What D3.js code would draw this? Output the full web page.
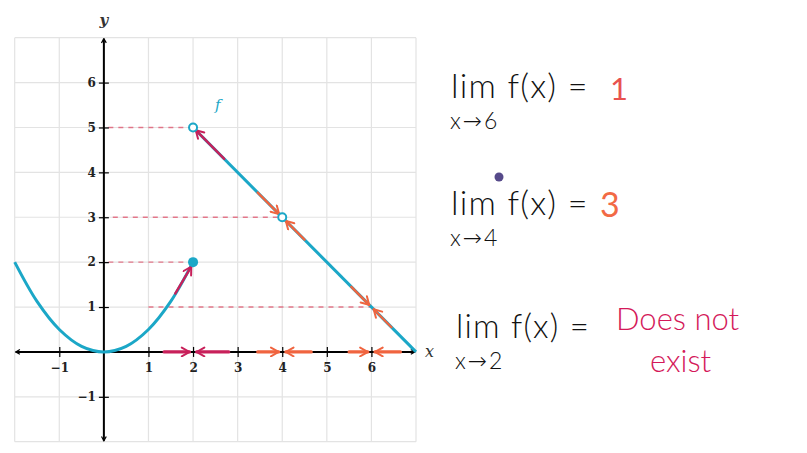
<!DOCTYPE html>
<html>
<head>
<meta charset="utf-8">
<script src="https://cdn.jsdelivr.net/npm/d3@7"></script>
<style>
  html, body { margin: 0; padding: 0; background: #fff; }
  svg { display: block; }
</style>
</head>
<body>
<svg id="chart" width="807" height="453"></svg>
<script>
// ---- data ----
const xDomain = [-2, 7];
const yDomain = [-2, 7];
const gridValues = [-2, -1, 0, 1, 2, 3, 4, 5, 6, 7];
const xTickValues = [-1, 1, 2, 3, 4, 5, 6];
const yTickValues = [-1, 1, 2, 3, 4, 5, 6];

// left piece (parabola-shaped)
const leftPieceX = [-2, -1.5, -1, -0.5, 0, 0.5, 1, 1.5, 2];
const leftPieceY = [2, 1.125, 0.5, 0.125, 0, 0.125, 0.5, 1.125, 2];
// right piece (straight segment)
const rightPieceX = [2, 7];
const rightPieceY = [5, 0];

const closedPoints = [[2, 2]];
const openPoints = [[2, 5], [4, 3]];

// dashed guide lines: [xStart, xEnd, y]
const guideLines = [[0.1, 2, 5], [0.2, 4, 3], [0.1, 2, 2], [1, 6, 1]];

// approach arrows on the x axis: [from, to, colorKey]
const axisArrows = [
  [1.35, 1.92, "crimson"], [2.8, 2.08, "crimson"],
  [3.45, 3.92, "orange"], [4.65, 4.08, "orange"],
  [5.5, 5.92, "orange"], [6.65, 6.08, "orange"]
];
// approach arrows along the curve: [[x1,y1],[x2,y2], colorKey]
const curveArrows = [
  [[1.6, 1.3], [1.96, 1.9], "crimson"],
  [[2.7, 4.3], [2.06, 4.94], "crimson"],
  [[3.45, 3.55], [3.93, 3.07], "orange"],
  [[4.5, 2.5], [4.08, 2.92], "orange"],
  [[5.55, 1.45], [5.95, 1.05], "orange"],
  [[6.45, 0.55], [6.05, 0.95], "orange"]
];

const colors = {
  curve: "#1ba7c7",
  crimson: "#c8205a",
  orange: "#f0643f",
  guide: "#e0506a",
  grid: "#e3e3e3"
};

// handwritten notes
const approachLabels = ["x", "x", "x"];
const approachTargets = ["6", "4", "2"];
const limitValues = ["1", "3", "Does not|exist"];
const limitColors = ["#e8524f", "#f26a45", "#d4195a"];

// ---- drawing ----
const svg = d3.select("#chart");
const x = d3.scaleLinear().domain(xDomain).range([14.7, 416]);
const y = d3.scaleLinear().domain(yDomain).range([441.7, 37.7]);

// grid
const grid = svg.append("g");
grid.selectAll("line.v").data(gridValues).join("line")
  .attr("x1", d => x(d)).attr("x2", d => x(d))
  .attr("y1", y(7)).attr("y2", y(-2))
  .attr("stroke", colors.grid).attr("stroke-width", 1.2);
grid.selectAll("line.h").data(gridValues).join("line")
  .attr("y1", d => y(d)).attr("y2", d => y(d))
  .attr("x1", x(-2)).attr("x2", x(7))
  .attr("stroke", colors.grid).attr("stroke-width", 1.2);

// arrow markers
const defs = svg.append("defs");
defs.append("marker").attr("id", "axArrow").attr("viewBox", "0 0 10 10")
  .attr("refX", 8).attr("refY", 5).attr("markerWidth", 6).attr("markerHeight", 6)
  .attr("orient", "auto-start-reverse").attr("markerUnits", "userSpaceOnUse")
  .append("path").attr("d", "M1,1 L8,5 L1,9").attr("fill", "none")
  .attr("stroke", "#000").attr("stroke-width", 2);
["crimson", "orange"].forEach(k => {
  defs.append("marker").attr("id", "arr-" + k).attr("viewBox", "0 0 10 10")
    .attr("refX", 9).attr("refY", 5).attr("markerWidth", 11).attr("markerHeight", 11)
    .attr("orient", "auto").attr("markerUnits", "userSpaceOnUse")
    .append("path").attr("d", "M2,1 L9,5 L2,9").attr("fill", "none")
    .attr("stroke", colors[k]).attr("stroke-width", 1.8).attr("stroke-linecap", "round");
});

// guide dashed lines
svg.append("g").selectAll("line").data(guideLines).join("line")
  .attr("x1", d => x(d[0])).attr("x2", d => x(d[1]))
  .attr("y1", d => y(d[2])).attr("y2", d => y(d[2]))
  .attr("stroke", colors.guide).attr("stroke-width", 1.4)
  .attr("stroke-dasharray", "5,5").attr("opacity", 0.75);

// axes via d3 axis generators
const xAxis = d3.axisBottom(x).tickValues(xTickValues)
  .tickFormat(d => d < 0 ? "\u2212" + Math.abs(d) : d).tickSize(5).tickPadding(7);
const gx = svg.append("g").attr("transform", `translate(0,${y(0)})`).call(xAxis);
gx.select(".domain").remove();
gx.selectAll(".tick line").attr("y1", -5).attr("stroke", "#000").attr("stroke-width", 1.2);
gx.selectAll(".tick text").attr("font-family", "'DejaVu Serif', serif")
  .attr("font-weight", "bold").attr("font-size", 12).attr("fill", "#222");

const yAxis = d3.axisLeft(y).tickValues(yTickValues)
  .tickFormat(d => d < 0 ? "\u2212" + Math.abs(d) : d).tickSize(5).tickPadding(3);
const gy = svg.append("g").attr("transform", `translate(${x(0)},0)`).call(yAxis);
gy.select(".domain").remove();
gy.selectAll(".tick line").attr("x1", 5).attr("stroke", "#000").attr("stroke-width", 1.2);
gy.selectAll(".tick text").attr("font-family", "'DejaVu Serif', serif")
  .attr("font-weight", "bold").attr("font-size", 12).attr("fill", "#222");

// axis lines with arrowheads
svg.append("line").attr("x1", x(-2) + 1).attr("x2", x(7) - 1)
  .attr("y1", y(0)).attr("y2", y(0)).attr("stroke", "#000").attr("stroke-width", 2)
  .attr("marker-start", "url(#axArrow)").attr("marker-end", "url(#axArrow)");
svg.append("line").attr("x1", x(0)).attr("x2", x(0))
  .attr("y1", y(-2) - 1).attr("y2", y(7) + 1).attr("stroke", "#000").attr("stroke-width", 2)
  .attr("marker-start", "url(#axArrow)").attr("marker-end", "url(#axArrow)");

svg.append("text").attr("x", x(7) + 9).attr("y", y(0) + 5).text("x")
  .attr("font-family", "'DejaVu Serif', serif").attr("font-style", "italic").attr("font-size", 16).attr("fill", "#333");
svg.append("text").attr("x", x(0)).attr("y", 25).attr("text-anchor", "middle").text("y")
  .attr("font-family", "'DejaVu Serif', serif").attr("font-style", "italic").attr("font-weight", "bold").attr("font-size", 15).attr("fill", "#333");

// function pieces
svg.append("path").datum(leftPieceX.map((v, i) => [v, leftPieceY[i]]))
  .attr("d", d3.line().x(d => x(d[0])).y(d => y(d[1])).curve(d3.curveCatmullRom)).attr("fill", "none")
  .attr("stroke", colors.curve).attr("stroke-width", 3);
svg.append("path").datum(rightPieceX.map((v, i) => [v, rightPieceY[i]]))
  .attr("d", d3.line().x(d => x(d[0])).y(d => y(d[1]))).attr("fill", "none")
  .attr("stroke", colors.curve).attr("stroke-width", 3);

// approach arrows
svg.append("g").selectAll("line").data(axisArrows).join("line")
  .attr("x1", d => x(d[0])).attr("x2", d => x(d[1]))
  .attr("y1", y(0)).attr("y2", y(0))
  .attr("stroke", d => colors[d[2]]).attr("stroke-width", 3.2).attr("stroke-linecap", "round")
  .attr("marker-end", d => `url(#arr-${d[2]})`);
svg.append("g").selectAll("line").data(curveArrows).join("line")
  .attr("x1", d => x(d[0][0])).attr("y1", d => y(d[0][1]))
  .attr("x2", d => x(d[1][0])).attr("y2", d => y(d[1][1]))
  .attr("stroke", d => colors[d[2]]).attr("stroke-width", 2.4).attr("stroke-linecap", "round")
  .attr("marker-end", d => `url(#arr-${d[2]})`);

// points
svg.append("g").selectAll("circle").data(closedPoints).join("circle")
  .attr("cx", d => x(d[0])).attr("cy", d => y(d[1])).attr("r", 5)
  .attr("fill", colors.curve);
svg.append("g").selectAll("circle").data(openPoints).join("circle")
  .attr("cx", d => x(d[0])).attr("cy", d => y(d[1])).attr("r", 4)
  .attr("fill", "#fff").attr("stroke", colors.curve).attr("stroke-width", 2);

// f label
svg.append("text").attr("x", 215).attr("y", 110).text("f")
  .attr("font-family", "'DejaVu Serif', serif").attr("font-style", "italic")
  .attr("font-size", 15).attr("fill", colors.curve);

// handwritten notes
const hand = "Lato, 'Liberation Sans', sans-serif";
const noteBase = [98, 215, 338];
const noteLeft = [451, 451, 456];
const limFont = [34, 34, 33];
approachLabels.forEach((lbl, i) => {
  const g = svg.append("g");
  g.append("text").attr("x", noteLeft[i]).attr("y", noteBase[i])
    .attr("font-family", hand).attr("font-weight", 300).attr("font-size", limFont[i])
    .attr("letter-spacing", 1.2)
    .attr("fill", "#111").text("lim f(x) =");
  const sub = g.append("text").attr("x", noteLeft[i] - 1).attr("y", noteBase[i] + 31)
    .attr("font-family", hand).attr("font-weight", 300).attr("font-size", 23)
    .attr("letter-spacing", 2).attr("fill", "#111");
  sub.append("tspan").text(lbl);
  sub.append("tspan").attr("font-family", "'DejaVu Sans', sans-serif").attr("font-size", 23).text("\u2192");
  sub.append("tspan").text(approachTargets[i]);
  const parts = limitValues[i].split("|");
  if (parts.length > 1) {
    g.append("text").attr("x", 616).attr("y", 330)
      .attr("font-family", hand).attr("font-weight", 300).attr("font-size", 31)
      .attr("fill", limitColors[i]).text(parts[0]);
    g.append("text").attr("x", 650).attr("y", 372)
      .attr("font-family", hand).attr("font-weight", 300).attr("font-size", 31)
      .attr("fill", limitColors[i]).text(parts[1]);
  } else {
    g.append("text").attr("x", i === 0 ? 610 : 600).attr("y", noteBase[i] + 2)
      .attr("font-family", hand).attr("font-weight", 400).attr("font-size", i === 0 ? 31 : 34)
      .attr("fill", limitColors[i]).text(parts[0]);
  }
});
// stray pen dot
svg.append("circle").attr("cx", 499).attr("cy", 177).attr("r", 4.5).attr("fill", "#564a8a");
</script>
</body>
</html>
